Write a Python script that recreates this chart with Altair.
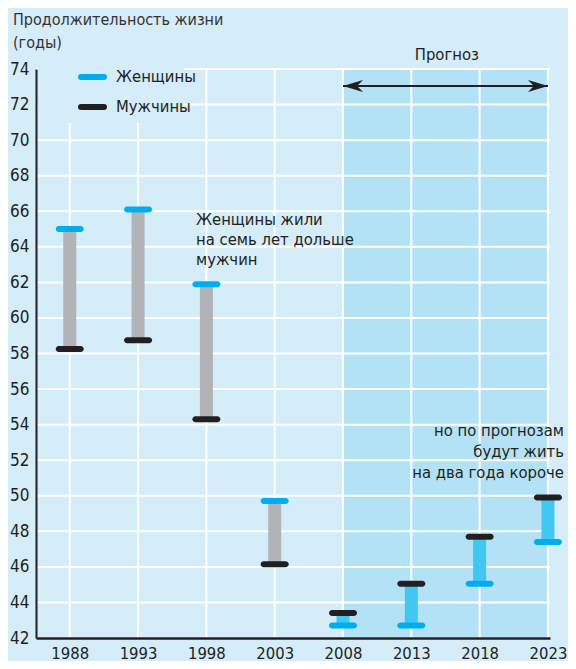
import altair as alt
import pandas as pd

years = [1988, 1993, 1998, 2003, 2008, 2013, 2018, 2023]
women = [65.0, 66.1, 61.9, 49.7, 42.7, 42.7, 45.05, 47.4]
men = [58.25, 58.75, 54.3, 46.15, 43.4, 45.05, 47.7, 49.9]
period = ["past", "past", "past", "past", "forecast", "forecast", "forecast", "forecast"]
y_ticks = list(range(42, 75, 2))

title_lines = ["Продолжительность жизни", "(годы)"]
legend_labels = ["Женщины", "Мужчины"]
note_past = ["Женщины жили", "на семь лет дольше", "мужчин"]
note_future = ["но по прогнозам", "будут жить", "на два года короче"]
forecast_label = "Прогноз"

BG = "#d5ecf9"
SHADE = "#b3e2f6"
INK = "#231f20"
WOMEN_C = "#00aeef"
MEN_C = "#231f20"
FONT = "Liberation Sans Narrow, DejaVu Sans Condensed, Roboto, sans-serif"
FS = 16.5

W, H = 514, 569
XDOM = [1985.53, 2023.15]
YDOM = [42, 74]

df = pd.DataFrame({"year": years, "women": women, "men": men, "period": period})

xs = alt.Scale(domain=XDOM, nice=False, zero=False)
ys = alt.Scale(domain=YDOM, nice=False, zero=False)
XAX = alt.Axis(values=years, format="d", grid=False, ticks=False, title=None,
               domainColor=INK, domainWidth=2.5, labelFont=FONT, labelFontSize=16.5,
               labelColor=INK, labelPadding=7, zindex=1, labelFlush=False,
               labelOverlap=False)
YAX = alt.Axis(values=y_ticks, grid=False, ticks=False, title=None,
               domainColor=INK, domainWidth=2, labelFont=FONT, labelFontSize=17,
               labelColor=INK, labelPadding=7, zindex=1, labelOverlap=False)


def X(f):
    return alt.X(f, scale=xs, axis=XAX)


def Y(f):
    return alt.Y(f, scale=ys, axis=YAX)


shade = alt.Chart(pd.DataFrame({"x": [2008], "x2": [2023], "y": [42], "y2": [74]})).mark_rect(
    color=SHADE).encode(x=X("x:Q"), x2="x2:Q", y=Y("y:Q"), y2="y2:Q")

hgrid = alt.Chart(pd.DataFrame({"v": y_ticks})).mark_rule(color="white", strokeWidth=2).encode(
    y=Y("v:Q"))
vgrid = alt.Chart(pd.DataFrame({"yr": years})).mark_rule(color="white", strokeWidth=2).encode(
    x=X("yr:Q"))

legend_box = alt.Chart(pd.DataFrame({"a": [0]})).mark_rect(color=BG).encode(
    x=alt.value(2), x2=alt.value(148), y=alt.value(-2), y2=alt.value(54))

leg_df = pd.DataFrame({"label": legend_labels, "c": [WOMEN_C, MEN_C], "py": [8, 38]})
leg_caps = alt.Chart(leg_df).mark_rule(strokeWidth=6, strokeCap="round").encode(
    x=alt.value(45), x2=alt.value(68), y=alt.Y("py:Q", scale=None),
    color=alt.Color("c:N", scale=None))
leg_text = alt.Chart(leg_df).mark_text(align="left", baseline="middle", font=FONT,
                                       fontSize=FS, color=INK).encode(
    x=alt.value(80), y=alt.Y("py:Q", scale=None), text="label:N")

title_df = pd.DataFrame({"t": title_lines, "py": [-49, -26]})
title = alt.Chart(title_df).mark_text(align="left", baseline="middle", font=FONT,
                                      fontSize=16, color="#333333").encode(
    x=alt.value(-23), y=alt.Y("py:Q", scale=None), text="t:N")

arrow_line = alt.Chart(pd.DataFrame({"x": [2008], "x2": [2023], "y": [73.05]})).mark_rule(
    color=INK, strokeWidth=2).encode(x=X("x:Q"), x2="x2:Q", y=Y("y:Q"))
arrow_heads = alt.Chart(pd.DataFrame({
    "x": [2008, 2023], "y": [73.05, 73.05],
    "shape": ["M0,0 L2,-0.6 L1.4,0 L2,0.6 Z", "M0,0 L-2,-0.6 L-1.4,0 L-2,0.6 Z"]
})).mark_point(filled=True, color=INK, opacity=1, size=400).encode(
    x=X("x:Q"), y=Y("y:Q"), shape=alt.Shape("shape:N", scale=None))
forecast_text = alt.Chart(pd.DataFrame({"x": [2015.6], "t": [forecast_label]})).mark_text(
    align="center", baseline="middle", font=FONT, fontSize=FS, color=INK).encode(
    x=X("x:Q"), y=alt.value(-14), text="t:N")

n1 = alt.Chart(pd.DataFrame({"t": note_past, "py": [151, 171, 191]})).mark_text(
    align="left", baseline="middle", font=FONT, fontSize=FS, color=INK).encode(
    x=alt.value(160), y=alt.Y("py:Q", scale=None), text="t:N")
n2 = alt.Chart(pd.DataFrame({"t": note_future, "py": [362, 383, 404]})).mark_text(
    align="right", baseline="middle", font=FONT, fontSize=FS, color=INK).encode(
    x=alt.value(528), y=alt.Y("py:Q", scale=None), text="t:N")

bars = alt.Chart(df).mark_rule(strokeWidth=13).encode(
    x=X("year:Q"), y=Y("women:Q"), y2="men:Q",
    color=alt.Color("period:N", scale=alt.Scale(domain=["past", "forecast"],
                                                range=["#b1b3b6", "#40c8f2"]), legend=None))
cap_w = alt.Chart(df).mark_tick(orient="horizontal", size=28, thickness=6, cornerRadius=3,
                                color=WOMEN_C, opacity=1).encode(x=X("year:Q"), y=Y("women:Q"))
cap_m = alt.Chart(df).mark_tick(orient="horizontal", size=28, thickness=6, cornerRadius=3,
                                color=MEN_C, opacity=1).encode(x=X("year:Q"), y=Y("men:Q"))

chart = alt.layer(
    shade, hgrid, vgrid, legend_box, arrow_line, arrow_heads, forecast_text,
    title, n1, n2, bars, cap_w, cap_m, leg_caps, leg_text
).properties(
    width=W, height=H,
    autosize=alt.AutoSizeParams(type="none"),
    padding={"left": 28, "top": 61, "right": 18, "bottom": 23},
    background=BG,
).configure_view(stroke=None)

chart.save("out.html", embed_options={"renderer": "svg", "actions": False})
